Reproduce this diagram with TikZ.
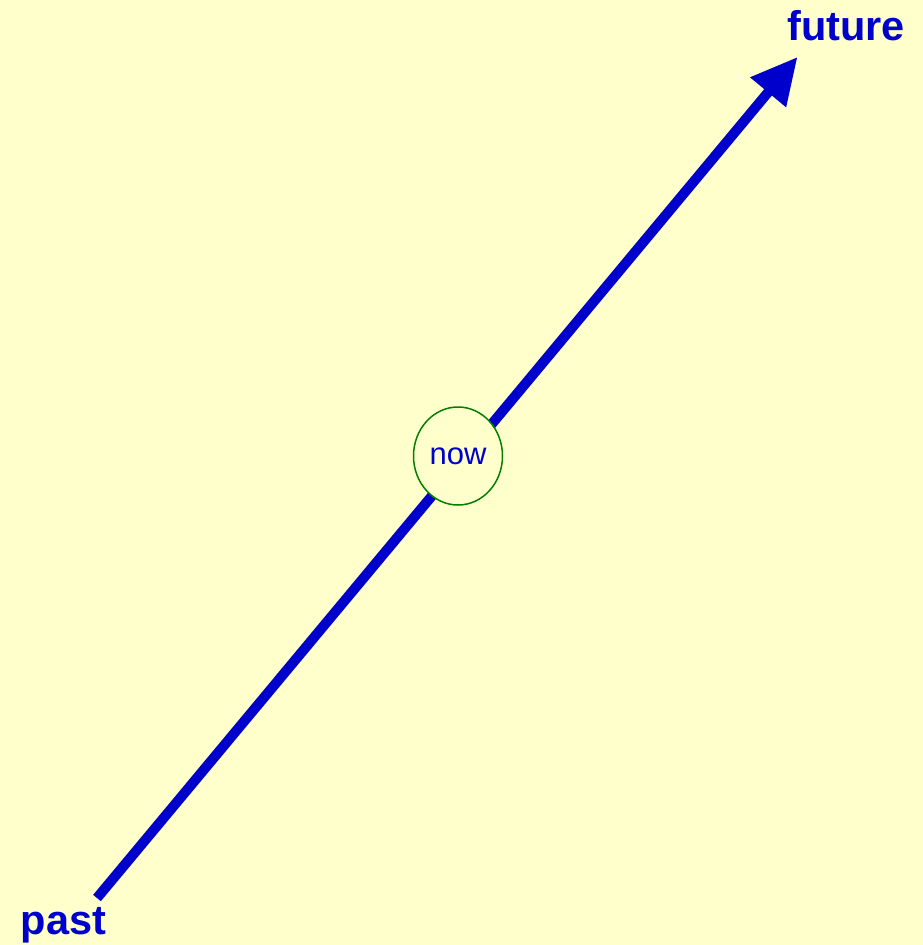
\documentclass[tikz,border=0pt]{standalone}
\usepackage{fontspec}
\setmainfont{Liberation Sans}
\usetikzlibrary{arrows.meta,shapes.geometric}
\definecolor{paper}{HTML}{FFFFCC}
\definecolor{timeline}{HTML}{0000CC}
\definecolor{ring}{HTML}{008000}

\begin{document}
\begin{tikzpicture}[x=1pt, y=-1pt,
  endlabel/.style={text=timeline, inner sep=0pt, anchor=base,
    font=\fontsize{41.5}{48}\selectfont\bfseries},
  nowmark/.style={ellipse, draw=ring, line width=1.5pt, fill=paper,
    text=timeline, minimum width=89pt, minimum height=98pt, inner sep=0pt,
    font=\fontsize{31}{36}\selectfont}]
  % background
  \fill[paper] (0,0) rectangle (923,945);
  \useasboundingbox (0,0) rectangle (923,945);
  % time axis
  \coordinate (start) at (97,898);
  \coordinate (tip) at (797.5,57);
  \draw[timeline, line width=10pt, -{Triangle[length=46pt,width=44pt]}]
    (start) -- (tip);
  \node[nowmark] (now) at (458,456) {now};
  \node[endlabel] (future) at (846,40) {future};
  \node[endlabel] (past) at (63.5,934) {past};
\end{tikzpicture}
\end{document}
